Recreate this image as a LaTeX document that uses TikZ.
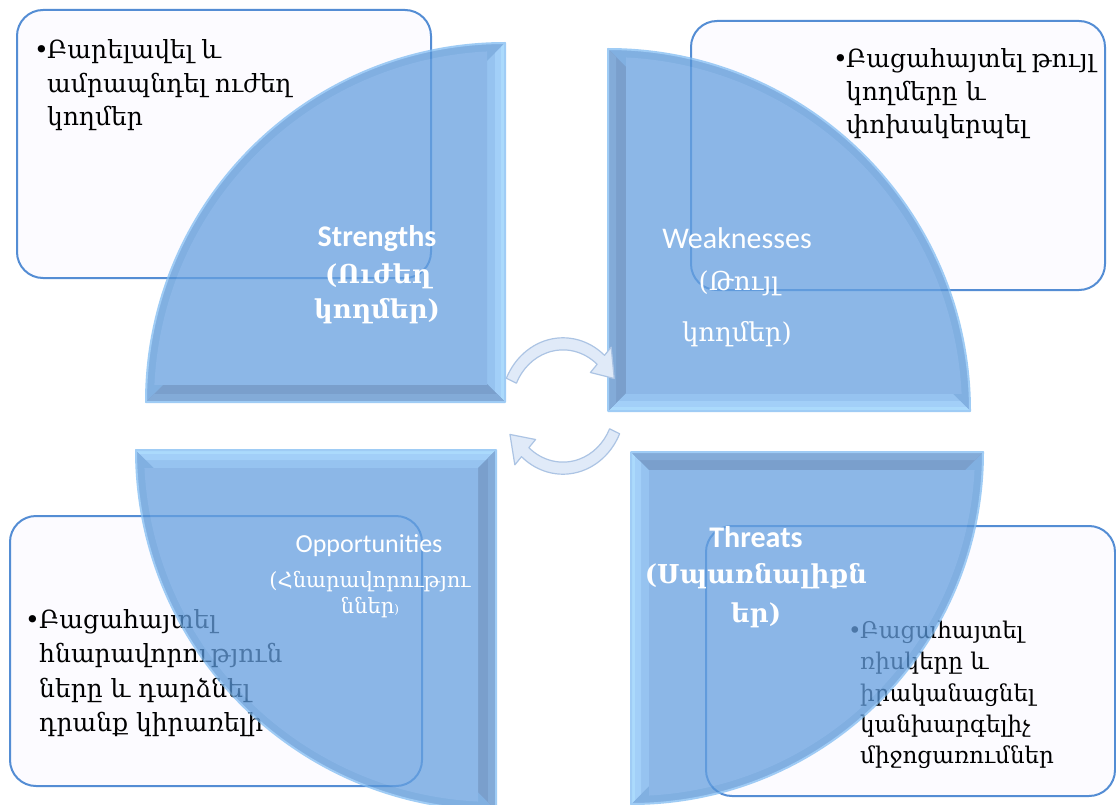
\documentclass[tikz,border=0pt]{standalone}
\usepackage{fontspec}
\setmainfont{DejaVu Serif}
\newfontfamily\lat{Carlito}
\newfontfamily\arm{DejaVu Serif}
\definecolor{qbase}{RGB}{102,160,224}
\definecolor{qlightA}{RGB}{115,175,235}
\definecolor{qlightB}{RGB}{131,191,246}
\definecolor{qlightC}{RGB}{144,206,252}
\definecolor{qdarkA}{RGB}{78,128,188}
\definecolor{qdarkB}{RGB}{90,143,203}
\definecolor{qarc}{RGB}{88,150,216}
\definecolor{qline}{RGB}{128,188,242}
\definecolor{boxfill}{RGB}{252,251,255}
\definecolor{boxline}{RGB}{84,141,212}
\definecolor{arrfill}{RGB}{224,234,248}
\definecolor{arrline}{RGB}{172,196,228}
\tikzset{
  x=1pt, y=-1pt,
  txtbox/.style={draw=boxline, line width=2pt, fill=boxfill, rounded corners=26pt},
  btext/.style={anchor=base west, inner sep=0pt, text=black, font=\arm\fontsize{25}{30}\selectfont},
  ttext/.style={anchor=base west, inner sep=0pt, text=black, font=\arm\fontsize{23}{28}\selectfont},
  qlab/.style={anchor=base, inner sep=0pt, text=white},
  latb/.style={font=\lat\bfseries\fontsize{30}{34}\selectfont},
  latr/.style={font=\lat\fontsize{30}{34}\selectfont},
  armb/.style={font=\arm\bfseries\fontsize{26}{30}\selectfont},
  armr/.style={font=\arm\fontsize{26}{30}\selectfont},
  cyclearrow/.style={fill=arrfill, draw=arrline, line width=1.2pt, line join=round},
}
% #1 corner, #2 rotation, #3 radius
\newcommand\drawquad[3]{%
  \begin{scope}[shift={(#1)}, rotate=#2, transparency group, opacity=0.75]
    \begin{scope}
      \clip (0,0) -- (-#3,0) arc[start angle=180, end angle=270, radius=#3] -- cycle;
      \fill[qarc] (0,0) -- (-#3,0) arc[start angle=180, end angle=270, radius=#3] -- cycle;
      \fill[qlightA] (0,0) -- (0,-#3) -- (-18,-#3+18) -- (-18,-18) -- cycle;
      \fill[qlightB] (0,0) -- (0,-#3) -- (-10,-#3+10) -- (-10,-10) -- cycle;
      \fill[qlightC] (0,0) -- (0,-#3) -- (-4,-#3+4) -- (-4,-4) -- cycle;
      \fill[qdarkA] (0,0) -- (-#3,0) -- (-#3+18,-18) -- (-18,-18) -- cycle;
      \fill[qdarkB] (0,0) -- (-#3,0) -- (-#3+8,-8) -- (-8,-8) -- cycle;
      \begin{scope}
        \clip (-600,-600) rectangle (-18,-18);
        \fill[qbase] (0,0) circle[radius=#3-8];
      \end{scope}
    \end{scope}
    \draw[qline, line width=2pt, line join=round] (0,0) -- (-#3,0) arc[start angle=180, end angle=270, radius=#3] -- cycle;
  \end{scope}}
\begin{document}
\begin{tikzpicture}
\useasboundingbox (0,0) rectangle (1116,805);
\fill[white] (0,0) rectangle (1116,805);
% text boxes
\draw[txtbox] (17,10) rectangle (431,278);
\draw[txtbox] (691,21) rectangle (1105,290);
\draw[txtbox] (10,516) rectangle (422,786);
\draw[txtbox] (706,526) rectangle (1115,796);
% strengths text
\node[btext] (sb) at (34,59) {•};
\node[btext] (s1) at (47,59) {Բարելավել և};
\node[btext] (s2) at (47,93) {ամրապնդել ուժեղ};
\node[btext] (s3) at (47,126) {կողմեր};
% weaknesses text
\node[btext] (wb) at (833,68) {•};
\node[btext] (w1) at (846,68) {Բացահայտել թույլ};
\node[btext] (w2) at (846,101) {կողմերը և};
\node[btext] (w3) at (846,134) {փոխակերպել};
% opportunities text
\node[btext] (ob) at (25,628) {•};
\node[btext] (o1) at (39,628) {Բացահայտել};
\node[btext] (o2) at (39,662) {հնարավորություն};
\node[btext] (o3) at (39,697) {ները և դարձնել};
\node[btext] (o4) at (39,731) {դրանք կիրառելի};
% threats text
\node[ttext] (tb) at (848,638) {•};
\node[ttext] (t1) at (860,638) {Բացահայտել};
\node[ttext] (t2) at (860,669) {ռիսկերը և};
\node[ttext] (t3) at (860,701) {իրականացնել};
\node[ttext] (t4) at (860,732) {կանխարգելիչ};
\node[ttext] (t5) at (860,763) {միջոցառումներ};
% quadrants
\drawquad{505,402}{0}{359}
\drawquad{608,411}{-90}{362}
\drawquad{496,450}{90}{360}
\drawquad{631,452}{180}{352}
% quadrant labels
\node[qlab, latb] (sl1) at (377,246) {Strengths};
\node[qlab, armb] (sl2) at (378,283) {(Ուժեղ};
\node[qlab, armb] (sl3) at (377,318) {կողմեր)};
\node[qlab, latr] (wl1) at (737,248) {Weaknesses};
\node[qlab, armr] (wl2) at (739,290) {(Թույլ};
\node[qlab, armr] (wl3) at (737,341) {կողմեր)};
\node[qlab, font=\lat\fontsize{26}{30}\selectfont] (ol1) at (369,552) {Opportunities};
\node[qlab, font=\arm\fontsize{21}{25}\selectfont] (ol2) at (370,587) {(Հնարավորությու};
\node[qlab, font=\arm\fontsize{21}{25}\selectfont] (ol3) at (370,613) {ններ{\fontsize{12}{14}\selectfont)}};
\node[qlab, latb] (tl1) at (756,547) {Threats};
\node[qlab, armb] (tl2) at (756,583) {(Սպառնալիքն};
\node[qlab, armb] (tl3) at (756,622) {եր)};
% cycle arrows
\begin{scope}[shift={(563,406)}, yscale=1.1]
  \draw[cyclearrow] (204:62) arc[start angle=204, end angle=312, radius=62]
    -- (312:72) -- (334:57) -- (312:41) -- (312:51)
    arc[start angle=312, end angle=204, radius=51] -- cycle;
  \draw[cyclearrow] (24:62) arc[start angle=24, end angle=132, radius=62]
    -- (132:72) -- (154:59) -- (132:41) -- (132:51)
    arc[start angle=132, end angle=24, radius=51] -- cycle;
\end{scope}
\end{tikzpicture}
\end{document}
